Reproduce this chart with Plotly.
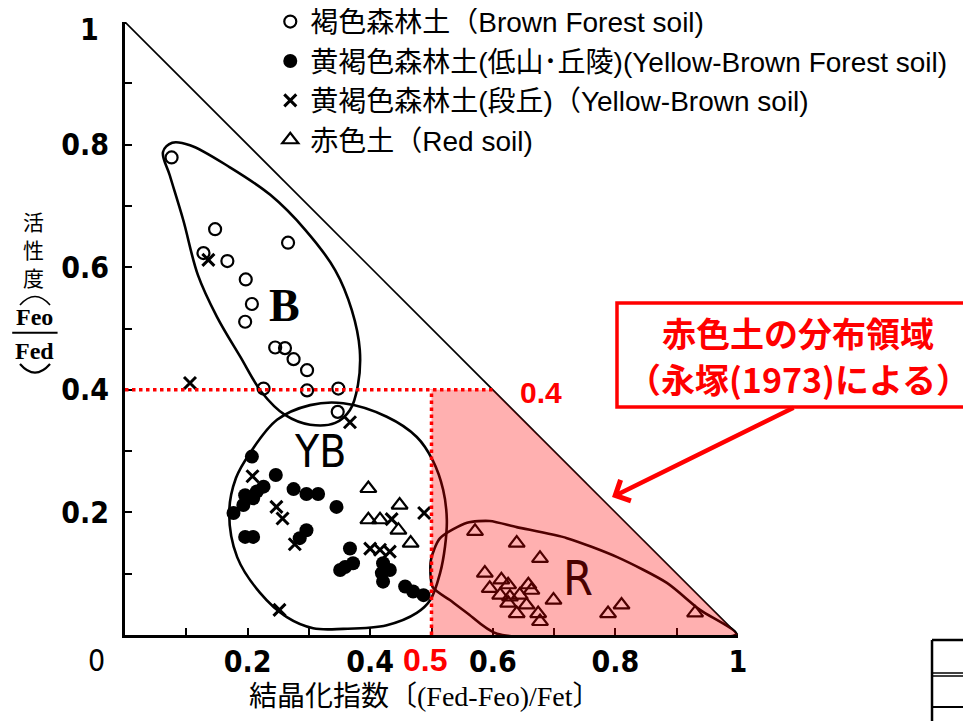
import plotly.graph_objects as go

# ---------------- data ----------------
# 褐色森林土 (Brown Forest soil) - open circles
bf_x = [0.076, 0.147, 0.128, 0.167, 0.266, 0.197, 0.207, 0.196, 0.245, 0.261,
        0.275, 0.297, 0.226, 0.297, 0.348, 0.347]
bf_y = [0.779, 0.662, 0.623, 0.610, 0.640, 0.580, 0.540, 0.511, 0.469, 0.468,
        0.450, 0.432, 0.402, 0.399, 0.402, 0.364]

# 黄褐色森林土(低山・丘陵) (Yellow-Brown Forest soil) - filled circles
ybf_x = [0.207, 0.246, 0.226, 0.215, 0.196, 0.209, 0.193, 0.177, 0.275, 0.296,
         0.315, 0.345, 0.196, 0.209, 0.296, 0.285, 0.367, 0.359, 0.372, 0.351,
         0.421, 0.419, 0.421, 0.432, 0.457, 0.470, 0.487]
ybf_y = [0.291, 0.261, 0.242, 0.234, 0.228, 0.223, 0.212, 0.199, 0.238, 0.230,
         0.230, 0.209, 0.160, 0.160, 0.171, 0.158, 0.141, 0.111, 0.117, 0.106,
         0.117, 0.101, 0.087, 0.106, 0.079, 0.071, 0.065]

# 黄褐色森林土(段丘) (Yellow-Brown soil) - crosses
ybs_x = [0.136, 0.106, 0.367, 0.208, 0.247, 0.257, 0.277, 0.252, 0.488, 0.435,
         0.400, 0.416, 0.432]
ybs_y = [0.612, 0.411, 0.347, 0.259, 0.209, 0.190, 0.148, 0.041, 0.199, 0.189,
         0.141, 0.139, 0.136]

# 赤色土 (Red soil) - open triangles
rs_x = [0.397, 0.448, 0.397, 0.416, 0.446, 0.466,
        0.571, 0.639, 0.677, 0.587, 0.614, 0.595, 0.625, 0.658, 0.612, 0.628,
        0.644, 0.663, 0.625, 0.655, 0.639, 0.674, 0.677, 0.699, 0.788, 0.810, 0.930]
rs_y = [0.239, 0.212, 0.188, 0.188, 0.171, 0.150,
        0.169, 0.150, 0.125, 0.101, 0.090, 0.076, 0.082, 0.082, 0.065, 0.062,
        0.065, 0.073, 0.052, 0.049, 0.035, 0.035, 0.022, 0.057, 0.035, 0.049, 0.036]

# group outlines (B, YB, R)
b_out_x = [0.062, 0.077, 0.106, 0.171, 0.237, 0.294, 0.343, 0.370, 0.383, 0.380,
           0.367, 0.343, 0.302, 0.261, 0.223, 0.188, 0.150, 0.119, 0.095, 0.073, 0.062]
b_out_y = [0.788, 0.803, 0.799, 0.763, 0.718, 0.661, 0.595, 0.530, 0.465, 0.408,
           0.367, 0.346, 0.343, 0.359, 0.396, 0.454, 0.519, 0.587, 0.677, 0.750, 0.788]
yb_out_x = [0.170, 0.181, 0.204, 0.248, 0.302, 0.356, 0.427, 0.476, 0.502, 0.519,
            0.525, 0.522, 0.514, 0.498, 0.476, 0.427, 0.356, 0.307, 0.264, 0.220,
            0.183, 0.170]
yb_out_y = [0.199, 0.256, 0.297, 0.351, 0.375, 0.378, 0.356, 0.323, 0.285, 0.237,
            0.188, 0.144, 0.101, 0.057, 0.036, 0.016, 0.010, 0.011, 0.029, 0.069,
            0.127, 0.199]
r_out_x = [0.997, 0.938, 0.884, 0.803, 0.721, 0.639, 0.595, 0.558, 0.514, 0.499,
           0.502, 0.530, 0.558, 0.607, 0.997]
r_out_y = [0.002, 0.041, 0.085, 0.127, 0.158, 0.176, 0.186, 0.183, 0.158, 0.122,
           0.078, 0.057, 0.036, 0.002, 0.002]

# Nagatsuka (1973) red-soil criteria
RED_CRYST = 0.5   # crystallinity index threshold
RED_ACT = 0.4     # activity threshold

x_tick_vals = [0.2, 0.4, 0.6, 0.8, 1.0]
x_tick_text = ["0.2", "0.4", "0.6", "0.8", "1"]
y_tick_vals = [0.2, 0.4, 0.6, 0.8]
y_tick_text = ["0.2", "0.4", "0.6", "0.8"]

legend_names = ["褐色森林土（Brown Forest soil)",
                "黄褐色森林土(低山･丘陵)(Yellow-Brown Forest soil)",
                "黄褐色森林土(段丘)（Yellow-Brown soil)",
                "赤色土（Red soil)"]

# ---------------- figure ----------------
NUM_FONT = "Liberation Sans Narrow, DejaVu Sans Condensed, Arial Narrow, sans-serif"
fig = go.Figure()

for ox, oy in [(b_out_x, b_out_y), (yb_out_x, yb_out_y)]:
    fig.add_trace(go.Scatter(x=ox, y=oy, mode="lines", line=dict(color="black", width=2.6, shape="spline", smoothing=1.0),
                             showlegend=False, hoverinfo="skip"))
fig.add_trace(go.Scatter(x=r_out_x, y=r_out_y, mode="lines", line=dict(color="black", width=2.6, shape="spline", smoothing=0.7),
                         showlegend=False, hoverinfo="skip"))

fig.add_trace(go.Scatter(x=bf_x, y=bf_y, mode="markers", name=legend_names[0], legendgroup="g1",
                         marker=dict(symbol="circle-open", size=12, color="black", line=dict(width=2.2, color="black"))))
fig.add_trace(go.Scatter(x=ybf_x, y=ybf_y, mode="markers", name=legend_names[1], legendgroup="g2",
                         marker=dict(symbol="circle", size=14, color="black")))
fig.add_trace(go.Scatter(x=ybs_x, y=ybs_y, mode="markers", name=legend_names[2], legendgroup="g3",
                         marker=dict(symbol="x-thin", size=12, color="black", line=dict(width=3, color="black"))))
fig.add_trace(go.Scatter(x=rs_x, y=rs_y, mode="markers", name=legend_names[3], legendgroup="g4",
                         marker=dict(symbol="triangle-up-open", size=14, color="black", line=dict(width=2.2, color="black"))))

shapes = [
    # diagonal boundary
    dict(type="line", xref="x", yref="y", x0=0, y0=1, x1=1, y1=0, line=dict(color="black", width=1.6), layer="below"),
    # red soil region
    dict(type="path", xref="x", yref="y",
         path=f"M {RED_CRYST},0 L 1,0 L {1-RED_ACT},{RED_ACT} L {RED_CRYST},{RED_ACT} Z",
         fillcolor="rgba(255,0,0,0.31)", line=dict(width=0), layer="above"),
    dict(type="line", xref="x", yref="y", x0=0, y0=RED_ACT, x1=1-RED_ACT, y1=RED_ACT,
         line=dict(color="#FF0000", width=3.5, dash="dot"), layer="above"),
    dict(type="line", xref="x", yref="y", x0=RED_CRYST, y0=0, x1=RED_CRYST, y1=RED_ACT,
         line=dict(color="#FF0000", width=3.5, dash="dot"), layer="above"),
    # callout box
    dict(type="rect", xref="paper", yref="paper", x0=0.8026, y0=0.372, x1=1.40, y1=0.5416,
         line=dict(color="#FF0000", width=3.5), fillcolor="white", layer="above"),
    # y-title fraction bar and the vertical brackets around it
    dict(type="line", xref="paper", yref="paper", x0=-0.184, y0=0.493, x1=-0.110, y1=0.493,
         line=dict(color="black", width=2)),
    dict(type="path", xref="paper", yref="paper", path="M -0.1713,0.5383 Q -0.1468,0.5660 -0.1223,0.5383",
         line=dict(color="black", width=1.6)),
    dict(type="path", xref="paper", yref="paper", path="M -0.1713,0.4421 Q -0.1468,0.4140 -0.1223,0.4421",
         line=dict(color="black", width=2.2)),
    # table fragment at the bottom right
    dict(type="line", xref="paper", yref="paper", x0=1.3165, y0=-0.0082, x1=1.45, y1=-0.0082, line=dict(color="black", width=2.5)),
    dict(type="line", xref="paper", yref="paper", x0=1.3165, y0=-0.062, x1=1.45, y1=-0.062, line=dict(color="black", width=1.5)),
    dict(type="line", xref="paper", yref="paper", x0=1.3165, y0=-0.067, x1=1.45, y1=-0.067, line=dict(color="black", width=1.5)),
    dict(type="line", xref="paper", yref="paper", x0=1.3165, y0=-0.1175, x1=1.45, y1=-0.1175, line=dict(color="black", width=2)),
    dict(type="line", xref="paper", yref="paper", x0=1.3165, y0=-0.0082, x1=1.3165, y1=-0.16, line=dict(color="black", width=2.5)),
]

ann = []
def A(text, x, y, size, color="black", family=NUM_FONT, ref="paper", **kw):
    ann.append(dict(text=text, x=x, y=y, xref=ref, yref=ref, showarrow=False, xanchor="center", yanchor="middle",
                    font=dict(size=size, color=color, family=family), **kw))

# region labels
A("<b>B</b>", 0.261, 0.538, 46, family="Liberation Serif, serif")
A("YB", 0.318, 0.299, 44, family="Liberation Sans Narrow, DejaVu Sans Condensed, sans-serif")
A("R", 0.739, 0.093, 48, color="#4a0000", family="Liberation Sans Narrow, DejaVu Sans Condensed, sans-serif")
# red threshold labels
A("<b>0.4</b>", 0.679, 0.395, 30, color="#FF0000", family="Liberation Sans, Arial, sans-serif")
A("<b>0.5</b>", 0.489, -0.041, 32, color="#FF0000", family="Liberation Sans, Arial, sans-serif")
# origin label and the top y label
A("0", -0.046, -0.041, 30)
A("<b>1</b>", -0.058, 0.988, 30)
# callout text
A("<b>赤色土の分布領域</b>", 1.098, 0.493, 34, color="#FF0000", family="Noto Sans CJK JP")
A("<b>（永塚(1973)による）</b>", 1.098, 0.419, 34, color="#FF0000", family="Noto Sans CJK JP")
# axis titles
A("結晶化指数〔(Fed-Feo)/Fet〕", 0.49, -0.101, 28, family="Liberation Serif, Noto Sans CJK JP")
A("活", -0.150, 0.6754, 21, family="Noto Sans CJK JP")
A("性", -0.150, 0.6297, 21, family="Noto Sans CJK JP")
A("度", -0.150, 0.5840, 21, family="Noto Sans CJK JP")
A("<b>Feo</b>", -0.147, 0.518, 24, family="Liberation Serif, serif")
A("<b>Fed</b>", -0.147, 0.463, 24, family="Liberation Serif, serif")

# arrow from the callout to the red region
ann.append(dict(x=0.7945, y=0.225, xref="paper", yref="paper", ax=183, ay=-90, axref="pixel", ayref="pixel",
                text="", showarrow=True, arrowhead=4, arrowsize=1.0, arrowwidth=4.5, arrowcolor="#FF0000"))

# the page body adds an 8 px offset, so the figure is 8 px smaller on each axis
fig.update_layout(
    width=963, height=713,
    margin=dict(l=117, r=233, t=14, b=86, autoexpand=False),
    paper_bgcolor="white", plot_bgcolor="white",
    shapes=shapes, annotations=ann,
    showlegend=True,
    legend=dict(x=0.237, y=1.041, xanchor="left", yanchor="top", bgcolor="rgba(0,0,0,0)",
                font=dict(family="Liberation Sans, Noto Sans CJK JP", size=28, color="black"),
                tracegroupgap=0, itemwidth=30),
    hovermode=False,
)
fig.update_xaxes(range=[0, 1], showgrid=False, zeroline=False, showline=True, linecolor="black", linewidth=3,
                 tickvals=x_tick_vals, ticktext=x_tick_text, ticks="inside", ticklen=7, tickwidth=2, tickcolor="black",
                 tickfont=dict(family=NUM_FONT, size=30, color="black", weight="bold"), ticklabelstandoff=-2,
                 ticklabeloverflow="allow",
                 minor=dict(dtick=0.1, tick0=0, ticks="inside", ticklen=7, tickwidth=2, tickcolor="black"))
fig.update_yaxes(range=[0, 1], showgrid=False, zeroline=False, showline=True, linecolor="black", linewidth=3,
                 tickvals=y_tick_vals, ticktext=y_tick_text, ticks="inside", ticklen=7, tickwidth=2, tickcolor="black",
                 tickfont=dict(family=NUM_FONT, size=30, color="black", weight="bold"), ticklabelstandoff=7,
                 ticklabeloverflow="allow",
                 minor=dict(dtick=0.1, tick0=0, ticks="inside", ticklen=7, tickwidth=2, tickcolor="black"))

fig.write_html("out.html")
